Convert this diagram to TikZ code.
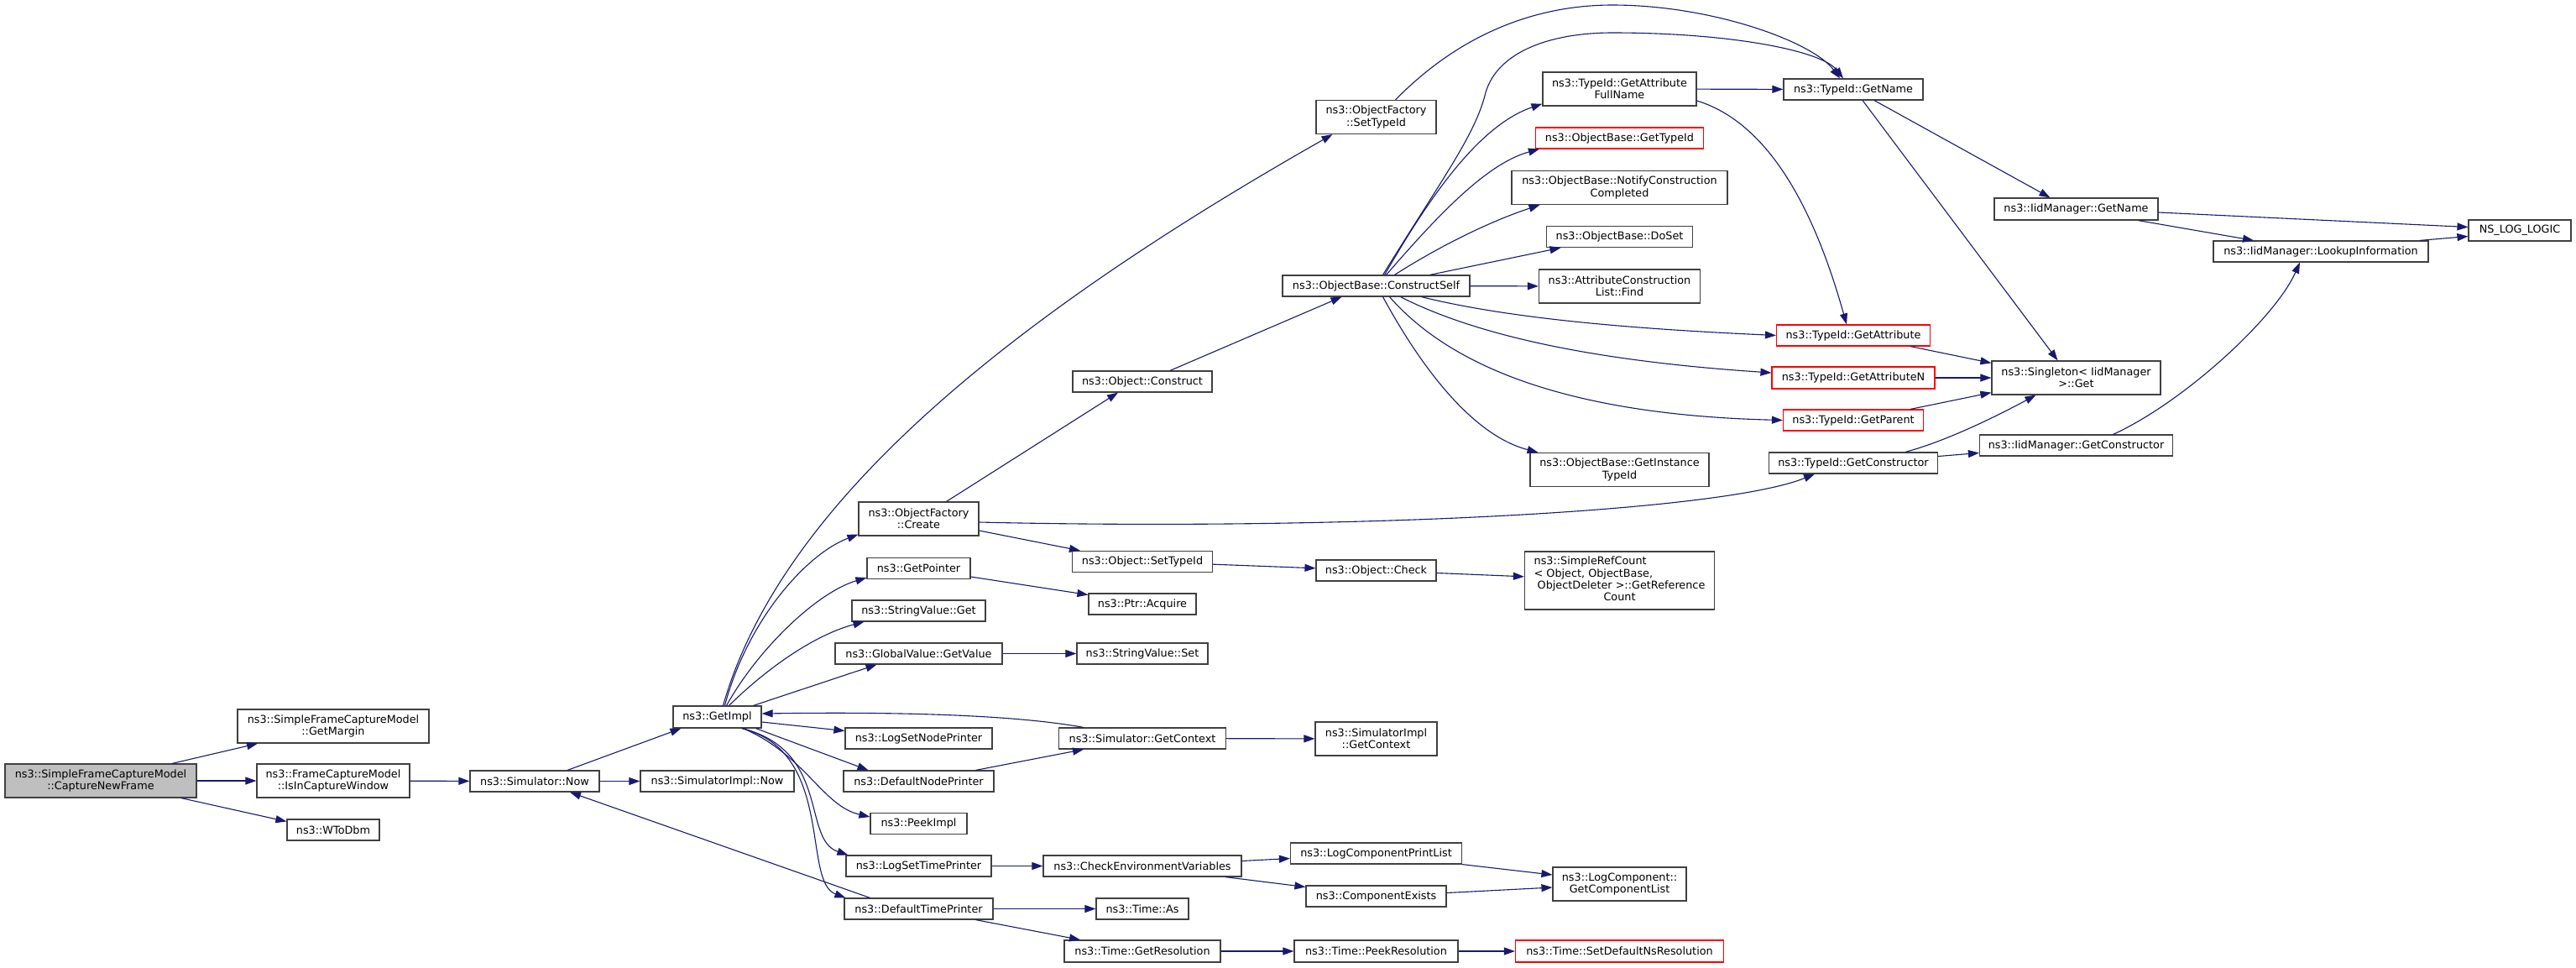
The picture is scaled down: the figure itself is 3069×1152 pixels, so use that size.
\documentclass[tikz,border=0pt]{standalone}
\usepackage{fontspec}
\setmainfont{DejaVu Sans}
\usepackage{xcolor}
\usepackage{tikz}
\usetikzlibrary{arrows.meta}
\definecolor{edge}{HTML}{191970}
\definecolor{frame}{HTML}{404040}
\definecolor{root}{HTML}{BFBFBF}
\definecolor{miss}{HTML}{FF0000}
\tikzset{
  fn/.style={draw=frame, line width=1.2pt, fill=white, inner sep=0pt, align=center,
    font=\fontsize{12.8}{14.3}\selectfont},
  fnred/.style={fn, draw=miss},
  fnroot/.style={fn, fill=root},
  box/.style 2 args={minimum width=#1, minimum height=#2},
  call/.style={draw=edge, line width=1.1pt, -{Triangle[length=13pt,width=9pt]}}
}

\begin{document}
\begin{tikzpicture}[x=1pt, y=-1pt]
  \useasboundingbox (0,0) rectangle (3069,1152);
  \fill[white] (0,0) rectangle (3069,1152);

  % caller and first level
  \node[fnroot, box={228}{40}] (cnf) at (120,930) {ns3::SimpleFrameCaptureModel\\::CaptureNewFrame};
  \node[fn, box={228}{40}] (gm) at (397,865) {ns3::SimpleFrameCaptureModel\\::GetMargin};
  \node[fn, box={182}{40}] (icw) at (397,930) {ns3::FrameCaptureModel\\::IsInCaptureWindow};
  \node[fn, box={110}{25}] (wtd) at (397,988.5) {ns3::WToDbm};
  \node[fn, box={154}{25}] (snow) at (637,930.5) {ns3::Simulator::Now};
  \node[fn, box={183}{25}] (sinow) at (854.5,930.5) {ns3::SimulatorImpl::Now};
  \node[fn, box={105}{26}] (gimpl) at (854.5,854) {ns3::GetImpl};

  % called from GetImpl
  \node[fn, box={143}{40}] (ofc) at (1094.5,618) {ns3::ObjectFactory\\::Create};
  \node[fn, box={123}{25}] (gptr) at (1094.5,677) {ns3::GetPointer};
  \node[fn, box={159}{25}] (svget) at (1094.5,727.5) {ns3::StringValue::Get};
  \node[fn, box={199}{25}] (gvgv) at (1094.5,778.5) {ns3::GlobalValue::GetValue};
  \node[fn, box={175}{25}] (lsnp) at (1094.5,879.5) {ns3::LogSetNodePrinter};
  \node[fn, box={179}{25}] (dnp) at (1094.5,930.5) {ns3::DefaultNodePrinter};
  \node[fn, box={115}{25}] (peek) at (1094.5,981) {ns3::PeekImpl};
  \node[fn, box={173}{25}] (lstp) at (1094.5,1031.5) {ns3::LogSetTimePrinter};
  \node[fn, box={177}{25}] (dtp) at (1094.5,1082.5) {ns3::DefaultTimePrinter};

  \node[fn, box={166}{25}] (ocons) at (1361,454.5) {ns3::Object::Construct};
  \node[fn, box={167}{25}] (osti) at (1361,669) {ns3::Object::SetTypeId};
  \node[fn, box={128}{25}] (acq) at (1361,719.5) {ns3::Ptr::Acquire};
  \node[fn, box={156}{25}] (svset) at (1361,778.5) {ns3::StringValue::Set};
  \node[fn, box={199}{25}] (sgc) at (1361,879.5) {ns3::Simulator::GetContext};
  \node[fn, box={236}{25}] (cev) at (1361,1031.5) {ns3::CheckEnvironmentVariables};
  \node[fn, box={110}{25}] (tas) at (1361,1082.5) {ns3::Time::As};
  \node[fn, box={186}{26}] (tgr) at (1361,1133) {ns3::Time::GetResolution};

  \node[fn, box={143}{40}] (ofsti) at (1639.5,139.5) {ns3::ObjectFactory\\::SetTypeId};
  \node[fn, box={223}{25}] (cself) at (1639.5,340.5) {ns3::ObjectBase::ConstructSelf};
  \node[fn, box={143}{25}] (ochk) at (1639.5,679.5) {ns3::Object::Check};
  \node[fn, box={145}{40}] (sigc) at (1639.5,880) {ns3::SimulatorImpl\\::GetContext};
  \node[fn, box={204}{25}] (lcpl) at (1639.5,1016.5) {ns3::LogComponentPrintList};
  \node[fn, box={167}{25}] (cex) at (1639.5,1067.5) {ns3::ComponentExists};
  \node[fn, box={195}{26}] (tpr) at (1639.5,1133) {ns3::Time::PeekResolution};

  \node[fn, box={183}{40}] (gafn) at (1929.5,106) {ns3::TypeId::GetAttribute\\FullName};
  \node[fnred, box={200}{25}] (obgti) at (1929.5,164.5) {ns3::ObjectBase::GetTypeId};
  \node[fn, box={257}{40}] (ncc) at (1929.5,223.5) {ns3::ObjectBase::NotifyConstruction\\Completed};
  \node[fn, box={174}{25}] (doset) at (1929.5,282) {ns3::ObjectBase::DoSet};
  \node[fn, box={192}{40}] (acfind) at (1929.5,341) {ns3::AttributeConstruction\\List::Find};
  \node[fn, box={213}{40}] (gitid) at (1929.5,559.5) {ns3::ObjectBase::GetInstance\\TypeId};
  \node[fn, box={226}{69}] (src) at (1929.5,691.5) {\begin{tabular}{@{}l@{}}ns3::SimpleRefCount\\
    < Object, ObjectBase,\\ \ ObjectDeleter >::GetReference\\ \multicolumn{1}{@{}c@{}}{Count}\end{tabular}};
  \node[fn, box={159}{40}] (lcgcl) at (1929.5,1053) {ns3::LogComponent::\\GetComponentList};
  \node[fnred, box={248}{26}] (sdnr) at (1929.5,1133) {ns3::Time::SetDefaultNsResolution};

  \node[fn, box={166}{25}] (tgn) at (2208,106.5) {ns3::TypeId::GetName};
  \node[fnred, box={183}{25}] (tga) at (2208,399.5) {ns3::TypeId::GetAttribute};
  \node[fnred, box={194}{26}] (tgan) at (2208,450) {ns3::TypeId::GetAttributeN};
  \node[fnred, box={167}{25}] (tgp) at (2208,500.5) {ns3::TypeId::GetParent};
  \node[fn, box={201}{25}] (tgc) at (2208,551.5) {ns3::TypeId::GetConstructor};

  \node[fn, box={195}{26}] (imgn) at (2473.5,249) {ns3::IidManager::GetName};
  \node[fn, box={201}{40}] (sget) at (2473.5,450) {ns3::Singleton< IidManager\\ >::Get};
  \node[fn, box={230}{25}] (imgc) at (2473.5,530.5) {ns3::IidManager::GetConstructor};
  \node[fn, box={256}{25}] (imli) at (2765,299.5) {ns3::IidManager::LookupInformation};
  \node[fn, box={122}{25}] (nslog) at (3002,274.5) {NS\_LOG\_LOGIC};

  % calls
  \draw[call] ([xshift=85]cnf.north) -- ([xshift=-90]gm.south);
  \draw[call] (cnf) -- (icw);
  \draw[call] ([xshift=96]cnf.south) -- ([yshift=10]wtd.west);
  \draw[call] (icw) -- (snow);
  \draw[call] ([xshift=39]snow.north) -- ([xshift=-43]gimpl.south);
  \draw[call] (snow) -- (sinow);

  \draw[call] ([xshift=7]gimpl.north) .. controls (930,600) and (1200,380) .. ([xshift=-52]ofsti.south);
  \draw[call] ([xshift=9]gimpl.north) .. controls (890,740) and (960,660) .. ([yshift=2]ofc.south west);
  \draw[call] ([xshift=11]gimpl.north) .. controls (905,770) and (975,705) .. ([yshift=2]gptr.south west);
  \draw[call] ([xshift=14]gimpl.north) .. controls (920,790) and (975,755) .. ([xshift=-65]svget.south);
  \draw[call] ([xshift=43]gimpl.north) -- ([xshift=-50]gvgv.south);
  \draw[call] ([yshift=-6]gimpl.east) -- ([yshift=9]lsnp.west);
  \draw[call] ([xshift=46]gimpl.south) -- ([xshift=-60]dnp.north);
  \draw[call] ([xshift=31]gimpl.south) .. controls (960,900) and (980,960) .. ([yshift=8]peek.west);
  \draw[call] ([xshift=30]gimpl.south) .. controls (990,895) and (955,1000) .. ([xshift=3]lstp.north west);
  \draw[call] ([xshift=29]gimpl.south) .. controls (995,895) and (955,1050) .. ([xshift=2]dtp.north west);
  \draw[call] ([xshift=-70]sgc.north) .. controls (1200,850) and (1050,848) .. ([yshift=4]gimpl.east);
  \draw[call] ([xshift=-58]dtp.north) -- ([xshift=42]snow.south);

  \draw[call] ([xshift=33]ofc.north) -- ([xshift=-29]ocons.south);
  \draw[call] ([yshift=-14]ofc.east) -- ([xshift=-74]osti.north);
  \draw[call] ([yshift=-4]ofc.east) .. controls (1600,632) and (2050,610) .. ([xshift=-46]tgc.south);
  \draw[call] ([xshift=33]ocons.north) -- ([xshift=-41]cself.south);
  \draw[call] (osti) -- (ochk);
  \draw[call] (ochk) -- (src);
  \draw[call] ([yshift=-10]gptr.east) -- ([yshift=11]acq.west);
  \draw[call] (gvgv) -- (svset);
  \draw[call] ([xshift=68]dnp.north) -- ([xshift=-70]sgc.south);
  \draw[call] (sgc) -- (sigc);
  \draw[call] (lstp) -- (cev);
  \draw[call] ([yshift=6]cev.east) -- ([yshift=-6]lcpl.west);
  \draw[call] ([xshift=99]cev.south) -- ([yshift=11]cex.west);
  \draw[call] (lcpl.south east) -- ([yshift=11]lcgcl.west);
  \draw[call] ([yshift=4]cex.east) -- ([yshift=-4]lcgcl.west);
  \draw[call] (dtp) -- (tas);
  \draw[call] ([xshift=68]dtp.south) -- ([xshift=-74]tgr.north);
  \draw[call] (tgr) -- (tpr);
  \draw[call] (tpr) -- (sdnr);

  % ConstructSelf and the TypeId side
  \draw[call] ([xshift=23]ofsti.north) .. controls (1740,40) and (1830,6) .. (1921,6)
    .. controls (2040,6) and (2160,50) .. ([xshift=-16]tgn.north);
  \draw[call] ([xshift=8]cself.north) .. controls (1720,210) and (1758,160) .. (1770,110)
    .. controls (1785,60) and (1850,39) .. (1921,39)
    .. controls (2060,39) and (2170,60) .. ([xshift=-12]tgn.north);
  \draw[call] ([xshift=10]cself.north) .. controls (1700,240) and (1760,150) .. ([yshift=3]gafn.south west);
  \draw[call] ([xshift=12]cself.north) .. controls (1710,260) and (1770,195) .. ([xshift=5]obgti.south west);
  \draw[call] ([xshift=22]cself.north) .. controls (1720,290) and (1780,262) .. ([xshift=-95]ncc.south);
  \draw[call] ([xshift=64]cself.north) -- ([xshift=-70]doset.south);
  \draw[call] (cself) -- (acfind);
  \draw[call] ([xshift=54]cself.south) .. controls (1800,380) and (1950,392) .. (tga.west);
  \draw[call] ([xshift=29]cself.south) .. controls (1760,400) and (1900,430) .. ([yshift=6]tgan.west);
  \draw[call] ([xshift=16]cself.south) .. controls (1740,450) and (1900,495) .. (tgp.west);
  \draw[call] ([xshift=8]cself.south) .. controls (1700,450) and (1760,520) .. ([xshift=-97]gitid.north);
  \draw[call] (gafn) -- (tgn);
  \draw[call] ([yshift=-14]gafn.east) .. controls (2120,150) and (2170,280) .. ([xshift=-8]tga.north);

  \draw[call] ([xshift=25]tgn.south) -- ([xshift=-31]imgn.north);
  \draw[call] ([xshift=11]tgn.south) -- ([xshift=-22]sget.north);
  \draw[call] ([yshift=-4]imgn.east) -- ([yshift=4]nslog.west);
  \draw[call] ([xshift=74]imgn.south) -- ([xshift=-80]imli.north);
  \draw[call] ([xshift=118]imli.north) -- ([yshift=-7]nslog.west);
  \draw[call] ([xshift=44]imgc.north) .. controls (2600,480) and (2710,380) .. ([xshift=-25]imli.south);
  \draw[call] ([xshift=68]tga.south) -- ([yshift=-3]sget.north west);
  \draw[call] (tgan) -- (sget);
  \draw[call] ([xshift=68]tgp.north) -- ([yshift=3]sget.south west);
  \draw[call] ([xshift=62]tgc.north) .. controls (2320,525) and (2380,495) .. ([xshift=-48]sget.south);
  \draw[call] ([yshift=8]tgc.east) -- ([yshift=-9]imgc.west);
\end{tikzpicture}
\end{document}
